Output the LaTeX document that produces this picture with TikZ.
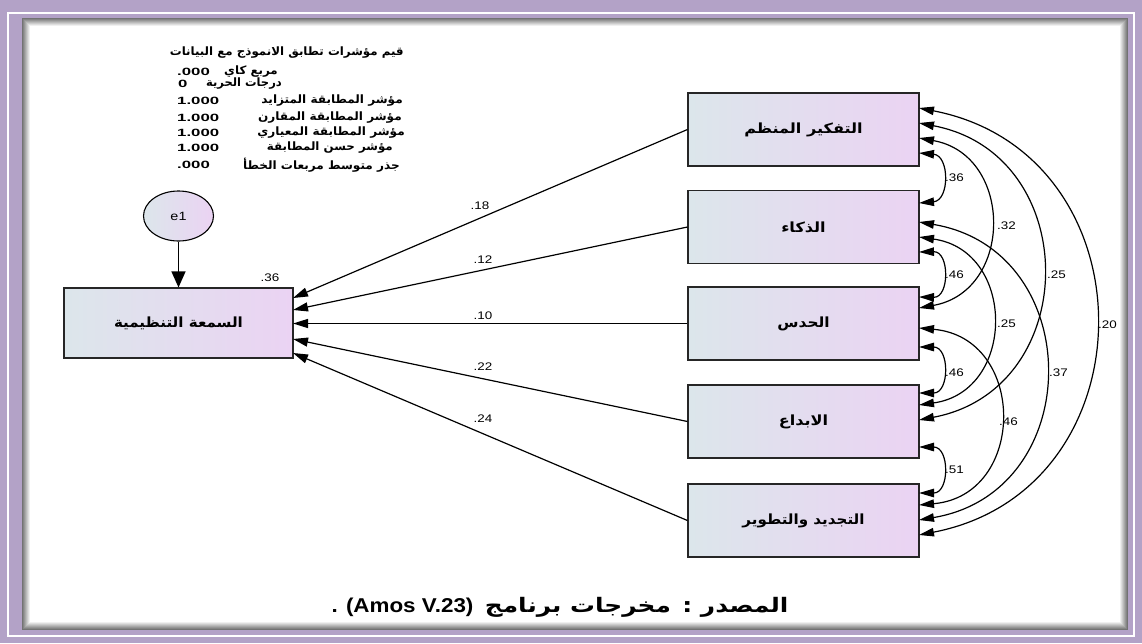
\documentclass[tikz,border=0pt]{standalone}
\usepackage{fontspec}
\usepackage{graphicx}
\setmainfont{Liberation Sans}
\newfontfamily\arabicfont[Script=Arabic]{DejaVu Sans}
\TeXXeTstate=1
\usetikzlibrary{arrows.meta,shapes.geometric}
\definecolor{framecol}{HTML}{B3A2C7}
\definecolor{boxL}{HTML}{DCE6EB}
\definecolor{boxR}{HTML}{EBD3F3}
% Arabic text, set right to left and optionally widened
\newcommand\arb[2][1]{\scalebox{#1}[1]{\arabicfont\bfseries\beginR #2\endR}}
\newcommand\wide[2][1]{\scalebox{#1}[1]{#2}}
% a path coefficient such as .18
\newcommand\cf[1]{\scalebox{1.22}[1]{\hbox{.}\hbox{#1}}}
\begin{document}
\begin{tikzpicture}[x=1pt,y=-1pt,
  varbox/.style={draw=black!85, line width=1.1pt, left color=boxL, right color=boxR,
    minimum width=231pt, minimum height=73pt, inner sep=0pt, font=\fontsize{14}{16}\selectfont},
  errnode/.style={ellipse, draw=black, line width=1.1pt, left color=boxL, right color=boxR,
    minimum width=70pt, minimum height=50pt, inner sep=0pt},
  reg/.style={line width=1.2pt, -{Triangle[length=15pt,width=9pt]}},
  errarrow/.style={line width=1.2pt, -{Triangle[length=16pt,width=14pt]}},
  cov/.style={line width=1.2pt, {Triangle[length=15pt,width=8.5pt]}-{Triangle[length=15pt,width=8.5pt]}},
  coef/.style={inner sep=0pt, font=\fontsize{11}{13}\selectfont},
  fitar/.style={anchor=east, inner sep=0pt, font=\fontsize{11.5}{13}\selectfont},
  fitnum/.style={anchor=west, inner sep=0pt, font=\bfseries\fontsize{10.5}{12}\selectfont}
]
\useasboundingbox (0,0) rectangle (1142,643);

% double frame with an inner shadow
\fill[framecol] (0,0) rectangle (1142,643);
\draw[white,line width=2pt] (7.5,13) rectangle (1134,635.5);
\foreach \i [evaluate=\i as \g using 55-7*\i] in {0,...,7}
  \fill[black!\g] (22+\i,18+\i) rectangle (1128-\i,630-\i);
\fill[white] (30,26) rectangle (1120,622);

% fit indices
\node[fitar] (t0) at (404,53) {\arb[1.03]{قيم مؤشرات تطابق الانموذج مع البيانات}};
\node[fitar] (t1) at (278,72) {\arb[1.03]{مربع كاي}};
\node[fitnum] (v1) at (177,72) {\wide[1.6]{.000}};
\node[fitar] (t2) at (282,84) {\arb[1.0]{درجات الحرية}};
\node[fitnum] (v2) at (178,84) {\wide[1.6]{0}};
\node[fitar] (t3) at (403,101) {\arb[1.05]{مؤشر المطابقة المتزايد}};
\node[fitnum] (v3) at (177,101) {\wide[1.6]{1.000}};
\node[fitar] (t4) at (402,118) {\arb[1.05]{مؤشر المطابقة المقارن}};
\node[fitnum] (v4) at (177,118) {\wide[1.6]{1.000}};
\node[fitar] (t5) at (405,133) {\arb[1.05]{مؤشر المطابقة المعياري}};
\node[fitnum] (v5) at (177,133) {\wide[1.6]{1.000}};
\node[fitar] (t6) at (393,148) {\arb[1.03]{مؤشر حسن المطابقة}};
\node[fitnum] (v6) at (177,148) {\wide[1.6]{1.000}};
\node[fitar] (t7) at (400,165) {\arb[1.05]{جذر متوسط مربعات الخطأ}};
\node[fitnum] (v7) at (177,165) {\wide[1.6]{.000}};

% dependent variable and its error
\node[varbox, minimum width=229pt, minimum height=70pt] (dv) at (178.5,323)
  {\arb[1.08]{السمعة التنظيمية}};
\node[errnode] (e1) at (178.5,216) {\fontsize{12}{14}\selectfont\wide[1.2]{e1}};
\node[coef] (r2) at (270,278) {\cf{36}};
\draw[errarrow] (e1) -- (dv);

% predictors
\node[varbox] (x1) at (803.5,129.5) {\arb[1.15]{التفكير المنظم}};
\node[varbox] (x2) at (803.5,227)   {\arb[1.15]{الذكاء}};
\node[varbox] (x3) at (803.5,323.5) {\arb[1.1]{الحدس}};
\node[varbox] (x4) at (803.5,421.5) {\arb[1.15]{الابداع}};
\node[varbox] (x5) at (803.5,520.5) {\arb[1.08]{التجديد والتطوير}};

% arrow heads on the dependent box
\coordinate (d1) at (293,298);
\coordinate (d2) at (293,310);
\coordinate (d3) at (293,323.5);
\coordinate (d4) at (293,339);
\coordinate (d5) at (293,353);
\draw[reg] (x1.west) -- (d1);
\draw[reg] (x2.west) -- (d2);
\draw[reg] (x3.west) -- (d3);
\draw[reg] (x4.west) -- (d4);
\draw[reg] (x5.west) -- (d5);
\node[coef] (b1) at (480,206) {\cf{18}};
\node[coef] (b2) at (483,260) {\cf{12}};
\node[coef] (b3) at (483,316) {\cf{10}};
\node[coef] (b4) at (483,367) {\cf{22}};
\node[coef] (b5) at (483,419) {\cf{24}};

% attachment points of the correlations on the right sides
\coordinate (a15) at (919,108);  \coordinate (a14) at (919,123);
\coordinate (a13) at (919,138);  \coordinate (a12) at (919,153);
\coordinate (a21) at (919,203);  \coordinate (a25) at (919,222);
\coordinate (a24) at (919,237);  \coordinate (a23) at (919,252);
\coordinate (a32) at (919,297);  \coordinate (a31) at (919,308);
\coordinate (a35) at (919,328);  \coordinate (a34) at (919,347);
\coordinate (a43) at (919,393);  \coordinate (a42) at (919,405);
\coordinate (a41) at (919,420);  \coordinate (a45) at (919,447);
\coordinate (a54) at (919,493);  \coordinate (a53) at (919,505);
\coordinate (a52) at (919,520);  \coordinate (a51) at (919,535);

% correlations: circular arcs as cubic curves
\draw[cov] (a12) .. controls (949.7,155.6) and (949.7,200.4) .. (a21);
\draw[cov] (a23) .. controls (949.7,251.3) and (949.7,297.7) .. (a32);
\draw[cov] (a34) .. controls (949.7,347) and (949.7,393) .. (a43);
\draw[cov] (a45) .. controls (949.7,447) and (949.7,493) .. (a54);
\draw[cov] (a13) .. controls (1013.7,155.1) and (1013.7,290.9) .. (a31);
\draw[cov] (a24) .. controls (1016.3,250.7) and (1016.3,391.3) .. (a42);
\draw[cov] (a35) .. controls (1027,337.6) and (1027,495.4) .. (a53);
\draw[cov] (a14) .. controls (1083,154.1) and (1083,388.9) .. (a41);
\draw[cov] (a25) .. controls (1087,250.3) and (1087,491.7) .. (a52);
\draw[cov] (a15) .. controls (1153.7,153.6) and (1153.7,489.4) .. (a51);

\node[coef,anchor=west] (c12) at (945,178) {\cf{36}};
\node[coef,anchor=west] (c23) at (945,275) {\cf{46}};
\node[coef,anchor=west] (c34) at (945,373) {\cf{46}};
\node[coef,anchor=west] (c45) at (945,470) {\cf{51}};
\node[coef,anchor=west] (c13) at (997,226) {\cf{32}};
\node[coef,anchor=west] (c24) at (997,324) {\cf{25}};
\node[coef,anchor=west] (c35) at (999,422) {\cf{46}};
\node[coef,anchor=west] (c14) at (1047,275) {\cf{25}};
\node[coef,anchor=west] (c25) at (1049,373) {\cf{37}};
\node[coef,anchor=west] (c15) at (1098,325) {\cf{20}};

% source line
\node[font=\bfseries\fontsize{20}{24}\selectfont] (src) at (560,607)
  {\wide[1.12]{. (Amos V.23)}\hspace{6pt} \arb[1.24]{المصدر : مخرجات برنامج}};
\end{tikzpicture}
\end{document}
